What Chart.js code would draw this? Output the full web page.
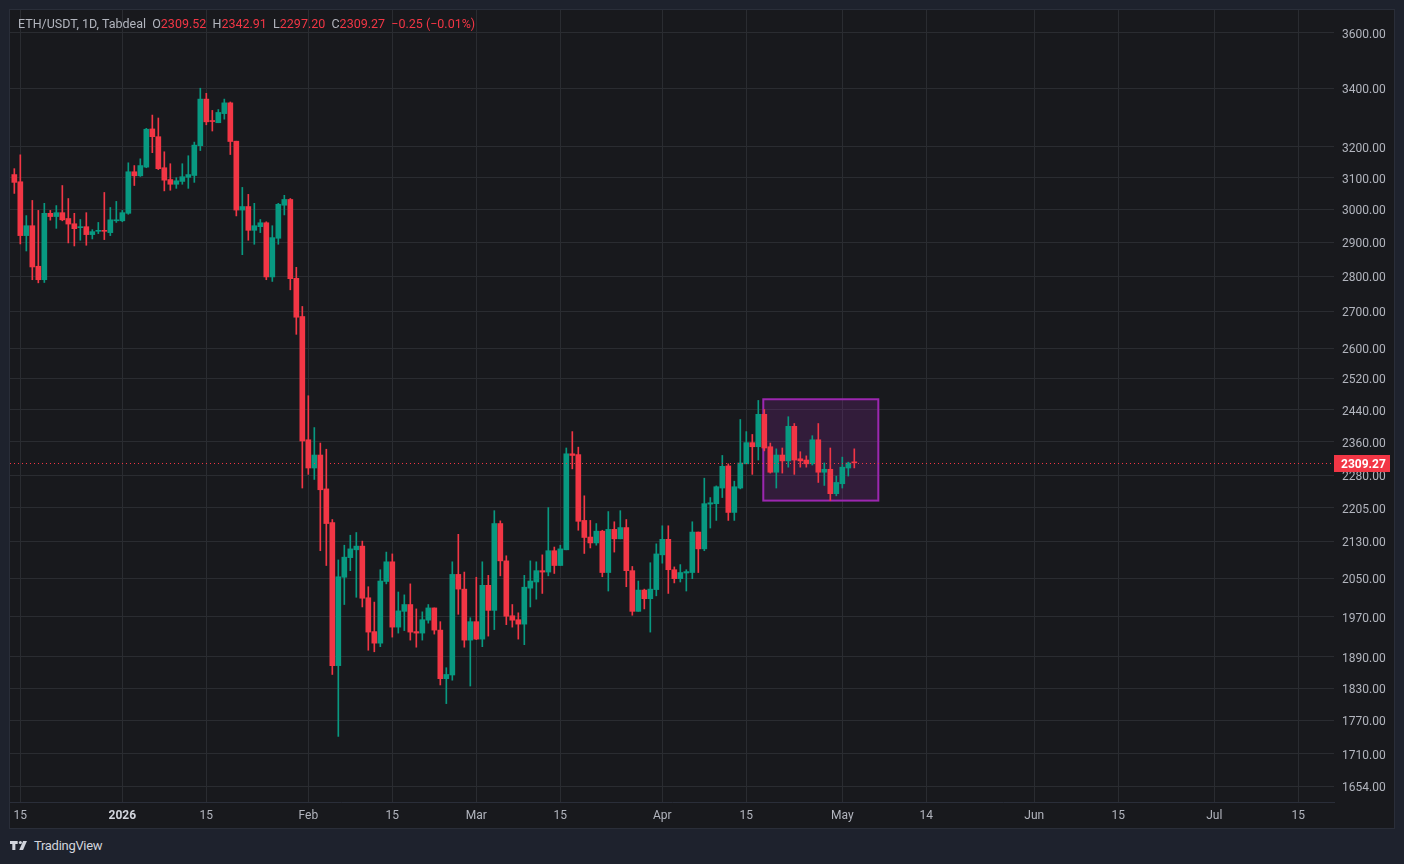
<!DOCTYPE html>
<html>
<head>
<meta charset="utf-8">
<script src="https://cdn.jsdelivr.net/npm/chart.js@4"></script>
<style>
  html, body { margin: 0; padding: 0; background: #1e222d; width: 1404px; height: 864px; overflow: hidden; font-family: Roboto, "DejaVu Sans", sans-serif; }
  #panel { position: absolute; left: 10px; top: 10px; width: 1384px; height: 818px; background: #18191d; }
  #c { position: absolute; left: 10px; top: 10px; }
  #frame { position: absolute; left: 9px; top: 9px; width: 1386px; height: 820px; box-sizing: border-box; border: 1px solid #2a2e39; pointer-events: none; }
  #legend { position: absolute; left: 18px; top: 16px; font-size: 12.5px; color: #b2b5be; white-space: pre; }
  #legend .v { color: #f23645; }
  #logo { position: absolute; left: 10px; top: 838px; color: #d1d4dc; font-size: 13px; letter-spacing: -0.3px; display: flex; align-items: center; gap: 4px; }
</style>
</head>
<body>
<div id="panel"></div>
<canvas id="c" width="1384" height="818"></canvas>
<div id="frame"></div>
<div id="legend">ETH/USDT, 1D, Tabdeal  O<span class="v">2309.52</span>  H<span class="v">2342.91</span>  L<span class="v">2297.20</span>  C<span class="v">2309.27</span>  <span class="v">−0.25 (−0.01%)</span></div>
<div id="logo">
  <svg width="20" height="11" viewBox="0 0 26 14"><path d="M0 1h10v4H7v8H3V5H0z" fill="#d1d4dc"/><circle cx="13.5" cy="3" r="2" fill="#d1d4dc"/><path d="M17 1h5l-5 12h-5z" fill="#d1d4dc"/></svg>
  <span>TradingView</span>
</div>
<script>
// daily candles, day 0 = 2025-12-14
var opens = [3110,3087,2920,2950,2829,2790,2988,2978,2990,2972,2956,2944,2947,2923,2933,2936,2929,2965,2965,2988,
  3119,3106,3134,3260,3234,3132,3094,3079,3088,3101,3107,3204,3362,3287,3281,3312,3349,3219,2998,3009,
  2936,2947,2959,2798,2912,3013,3031,2794,2686,2365,2297,2328,2248,2171,1873,2052,2094,2111,2119,2009,
  1940,1917,2043,2085,1949,1981,1995,1940,1937,1963,1988,1943,1848,1855,2058,2027,1923,1960,1925,2035,
  1983,2169,2087,1972,1964,1955,2029,2042,2066,2063,2109,2077,2111,2331,2329,2176,2139,2126,2152,2062,
  2156,2135,2160,2066,1981,2025,2007,2026,2100,2134,2068,2049,2061,2062,2150,2113,2213,2214,2250,2302,
  2194,2250,2307,2358,2348,2428,2348,2287,2328,2314,2398,2319,2316,2307,2365,2287,2294,2237,2260,2297,2309.52];
var highs = [3129,3174,2981,3028,2997,3019,2997,3012,3075,3034,2988,2969,2990,2938,2960,3053,3006,3025,2997,3148,
  3139,3161,3262,3307,3297,3184,3145,3100,3145,3171,3216,3400,3382,3323,3326,3362,3352,3219,3069,3047,
  3019,2969,2962,2950,3019,3044,3034,2826,2714,2475,2395,2357,2342,2178,2089,2121,2143,2149,2130,2032,
  2000,2068,2106,2102,2021,2015,2038,1986,1980,1995,1988,1960,1869,2085,2145,2063,1968,2052,2085,2056,
  2198,2175,2098,1995,1978,2056,2087,2085,2100,2205,2117,2121,2345,2385,2347,2232,2176,2169,2154,2196,
  2173,2198,2178,2075,2044,2027,2083,2124,2164,2164,2074,2079,2068,2173,2150,2273,2228,2255,2327,2307,
  2266,2415,2385,2378,2463,2440,2357,2343,2345,2422,2405,2336,2326,2375,2405,2309,2345,2278,2323,2311,2342.91];
var lows = [3050,2895,2874,2790,2781,2782,2967,2942,2965,2898,2889,2906,2891,2910,2926,2908,2920,2960,2962,2985,
  3075,3104,3132,3181,3126,3058,3060,3066,3079,3066,3085,3188,3274,3253,3281,3293,3175,2980,2863,2906,
  2894,2929,2790,2785,2894,2983,2761,2637,2250,2282,2270,2109,2077,1856,1741,1995,2066,2010,1990,1903,
  1900,1910,2038,1929,1937,1942,1923,1909,1923,1957,1935,1836,1801,1845,1975,1909,1834,1924,1910,1931,
  1944,2055,1954,1949,1925,1914,1990,2006,2018,2055,2060,2077,2111,2295,2154,2103,2115,2121,2053,2023,
  2106,2135,2032,1973,1981,1986,1939,2013,2082,2018,2040,2042,2023,2049,2062,2109,2159,2176,2228,2176,
  2176,2248,2307,2282,2316,2338,2285,2250,2285,2299,2282,2299,2299,2304,2263,2256,2221,2232,2250,2278,2297.20];
var closes = [3085,2920,2950,2827,2790,2988,2978,2990,2968,2955,2941,2947,2923,2932,2936,2933,2968,2968,2990,3119,
  3106,3139,3259,3234,3129,3092,3079,3090,3103,3110,3206,3362,3284,3285,3316,3349,3218,2998,3009,2936,
  2950,2959,2798,2914,3016,3031,2793,2684,2362,2297,2328,2246,2169,1873,2053,2095,2113,2119,2008,1939,
  1917,2044,2085,1949,1982,1995,1939,1937,1964,1988,1943,1848,1856,2058,2027,1923,1960,1925,2035,1983,
  2169,2087,1971,1963,1955,2031,2044,2066,2063,2109,2077,2113,2331,2327,2174,2138,2126,2152,2062,2156,
  2135,2160,2066,1981,2025,2007,2027,2102,2134,2068,2049,2062,2064,2150,2113,2214,2216,2253,2301,2194,
  2253,2309,2358,2348,2428,2345,2287,2328,2314,2398,2316,2314,2307,2365,2287,2294,2237,2263,2299,2309,2309.27];

// time axis ticks (day index) and their labels
var tickDays = [1, 18, 32, 49, 63, 77, 91, 108, 122, 138, 152, 170, 184, 200, 214];
var tickLabels = ['15', '2026', '15', 'Feb', '15', 'Mar', '15', 'Apr', '15', 'May', '14', 'Jun', '15', 'Jul', '15'];
var priceTicks = [1654, 1710, 1770, 1830, 1890, 1970, 2050, 2130, 2205, 2280, 2360, 2440, 2520, 2600, 2700, 2800, 2900, 3000, 3100, 3200, 3400, 3600];

// highlighted rectangle (days / prices)
var boxDays = [124.83, 144];
var boxPrices = [2221, 2466];
var lastPrice = 2309.27;

var upColor = '#089981';
var downColor = '#f23645';
var gridColor = '#2a2c31';

function candleColor(ctx) {
  var i = ctx.dataIndex;
  return closes[i] >= opens[i] ? upColor : downColor;
}

var bodyData = opens.map(function(o, i) { return { x: i, y: [o, closes[i]] }; });
var wickData = opens.map(function(o, i) { return { x: i, y: [lows[i], highs[i]] }; });

var extras = {
  id: 'extras',
  beforeDatasetsDraw: function(chart) {
    var c = chart.ctx, xs = chart.scales.x, ys = chart.scales.y;
    var x0 = xs.getPixelForValue(boxDays[0]), x1 = xs.getPixelForValue(boxDays[1]);
    var y0 = ys.getPixelForValue(boxPrices[1]), y1 = ys.getPixelForValue(boxPrices[0]);
    c.save();
    c.fillStyle = 'rgba(156, 39, 176, 0.2)';
    c.fillRect(x0, y0, x1 - x0, y1 - y0);
    c.strokeStyle = '#9c27b0';
    c.lineWidth = 2;
    c.strokeRect(x0, y0, x1 - x0, y1 - y0);
    c.restore();
  },
  afterDatasetsDraw: function(chart) {
    var c = chart.ctx, ys = chart.scales.y, area = chart.chartArea;
    var y = Math.round(ys.getPixelForValue(lastPrice)) + 0.5;
    c.save();
    c.strokeStyle = downColor;
    c.lineWidth = 1;
    c.setLineDash([1, 3]);
    c.beginPath();
    c.moveTo(area.left, y);
    c.lineTo(area.right, y);
    c.stroke();
    c.setLineDash([]);
    c.fillStyle = downColor;
    c.fillRect(area.right, y - 8.5, 56, 17);
    c.fillStyle = '#ffffff';
    c.font = 'bold 12px Roboto';
    c.textBaseline = 'middle';
    c.textAlign = 'left';
    c.fillText(lastPrice.toFixed(2), area.right + 7, y + 1);
    c.restore();
  }
};

new Chart(document.getElementById('c'), {
  type: 'bar',
  data: {
    datasets: [{
      label: 'body',
      data: bodyData,
      backgroundColor: candleColor,
      barThickness: 5,
      minBarLength: 1,
      grouped: false,
      order: 1
    }, {
      label: 'wick',
      data: wickData,
      backgroundColor: candleColor,
      barThickness: 1,
      grouped: false,
      order: 2
    }]
  },
  plugins: [extras],
  options: {
    responsive: false,
    animation: false,
    layout: { padding: 0 },
    plugins: {
      legend: { display: false },
      tooltip: { enabled: false }
    },
    scales: {
      x: {
        type: 'linear',
        min: -0.72,
        max: 219.95,
        offset: false,
        afterBuildTicks: function(scale) {
          scale.ticks = tickDays.map(function(d) { return { value: d }; });
        },
        afterFit: function(scale) {
          scale.height = 26;
          scale.paddingLeft = 0;
          scale.paddingRight = 0;
        },
        grid: { color: gridColor, drawTicks: false, offset: false },
        border: { display: true, color: '#2a2e39' },
        ticks: {
          autoSkip: false,
          maxRotation: 0,
          padding: 7,
          color: function(ctx) { return ctx.index === 1 ? '#d1d4dc' : '#b2b5be'; },
          font: function(ctx) {
            return { family: 'Roboto', size: 12, weight: ctx.index === 1 ? 'bold' : 'normal' };
          },
          callback: function(v, i) { return tickLabels[i]; }
        }
      },
      y: {
        type: 'logarithmic',
        position: 'right',
        min: 1627,
        max: 3686,
        afterBuildTicks: function(scale) {
          scale.ticks = priceTicks.map(function(p) { return { value: p }; });
        },
        afterFit: function(scale) {
          scale.width = 60;
          scale.paddingTop = 0;
          scale.paddingBottom = 0;
        },
        grid: { color: gridColor, drawTicks: false },
        border: { display: false },
        ticks: {
          padding: 8,
          labelOffset: 2,
          color: '#b2b5be',
          font: { family: 'Roboto', size: 12 },
          callback: function(v) { return Number(v).toFixed(2); }
        }
      }
    }
  }
});
</script>
</body>
</html>
